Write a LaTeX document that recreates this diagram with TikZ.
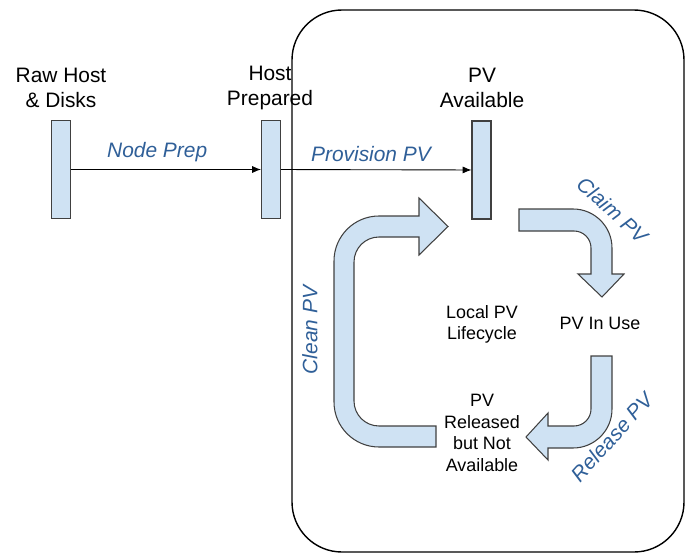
\documentclass[tikz,border=0pt]{standalone}
\usepackage{fontspec}
\setmainfont{Liberation Sans}
\usetikzlibrary{arrows.meta}
\definecolor{pvblue}{HTML}{2F5F98}
\definecolor{barfill}{HTML}{CFE2F3}
\definecolor{edgegray}{HTML}{404040}

\begin{document}
\begin{tikzpicture}[
        x=0.02cm, y=-0.02cm,
        bar/.style={draw=edgegray, fill=barfill, line width=0.6pt, inner sep=0pt, minimum width=0.38cm, minimum height=1.96cm},
        state/.style={align=center, inner sep=0pt, font=\fontsize{11.9}{14.2}\selectfont},
        inner/.style={align=center, inner sep=0pt, font=\fontsize{10.2}{12.3}\selectfont},
        action/.style={text=pvblue, inner sep=0pt, font=\fontsize{11.9}{14.2}\selectfont\itshape},
        flow/.style={-{Latex[length=5pt,width=4pt]}, line width=0.5pt},
        turnarrow/.style={draw=edgegray, fill=barfill, line width=0.6pt}
    ]
    \useasboundingbox (0,0) rectangle (686,554);

    % lifecycle frame
    \draw[line width=0.8pt, rounded corners=1cm] (292,10) rectangle (684,552);

    % states
    \node[bar] (raw) at (61,169.5) {};
    \node[bar] (prep) at (271,169.5) {};
    \node[bar] (avail) at (481.5,170) {};
    \node[state] (rawlabel) at (61,88) {Raw Host\\\& Disks};
    \node[state] (preplabel) at (270,88) {Host\\Prepared};
    \node[state] (availlabel) at (482,88) {PV\\Available};

    % provisioning
    \draw[flow] (raw) -- (prep) node[action, midway, above=4pt, xshift=-5pt] {Node Prep};
    \draw[flow] (prep) -- (avail) node[action, midway, above=4.5pt, xshift=-3pt] {Provision PV};

    % lifecycle loop
    \path[turnarrow] (519,209) [rounded corners=0.78cm] -- (612,209) [sharp corners]
        -- (612,274) -- (624,274) -- (602,297) -- (578,274) -- (591,274)
        [rounded corners=0.34cm] -- (591,231) [sharp corners] -- (519,231) -- cycle;
    \path[turnarrow] (591,356) -- (612,356) [rounded corners=0.78cm] -- (612,448) [sharp corners]
        -- (548,448) -- (548,460) -- (526,437) -- (548,413) -- (548,426)
        [rounded corners=0.34cm] -- (591,426) [sharp corners] -- cycle;
    \path[turnarrow] (436,447) [rounded corners=0.9cm] -- (334,447) -- (334,216) [sharp corners]
        -- (419,216) -- (419,198) -- (448,226.5) -- (419,255) -- (419,237)
        [rounded corners=0.5cm] -- (354,237) -- (354,426) [sharp corners] -- (436,426) -- cycle;

    \node[inner] (cycle) at (482,324.5) {Local PV\\Lifecycle};
    \node[inner] (inuse) at (600,323) {PV In Use};
    \node[inner] (released) at (482,433) {PV\\Released\\but Not\\Available};

    \node[action, rotate=-42] (claim) at (613,210) {Claim PV};
    \node[action, rotate=48] (release) at (612,437) {Release PV};
    \node[action, rotate=90] (clean) at (310,330) {Clean PV};
\end{tikzpicture}
\end{document}
